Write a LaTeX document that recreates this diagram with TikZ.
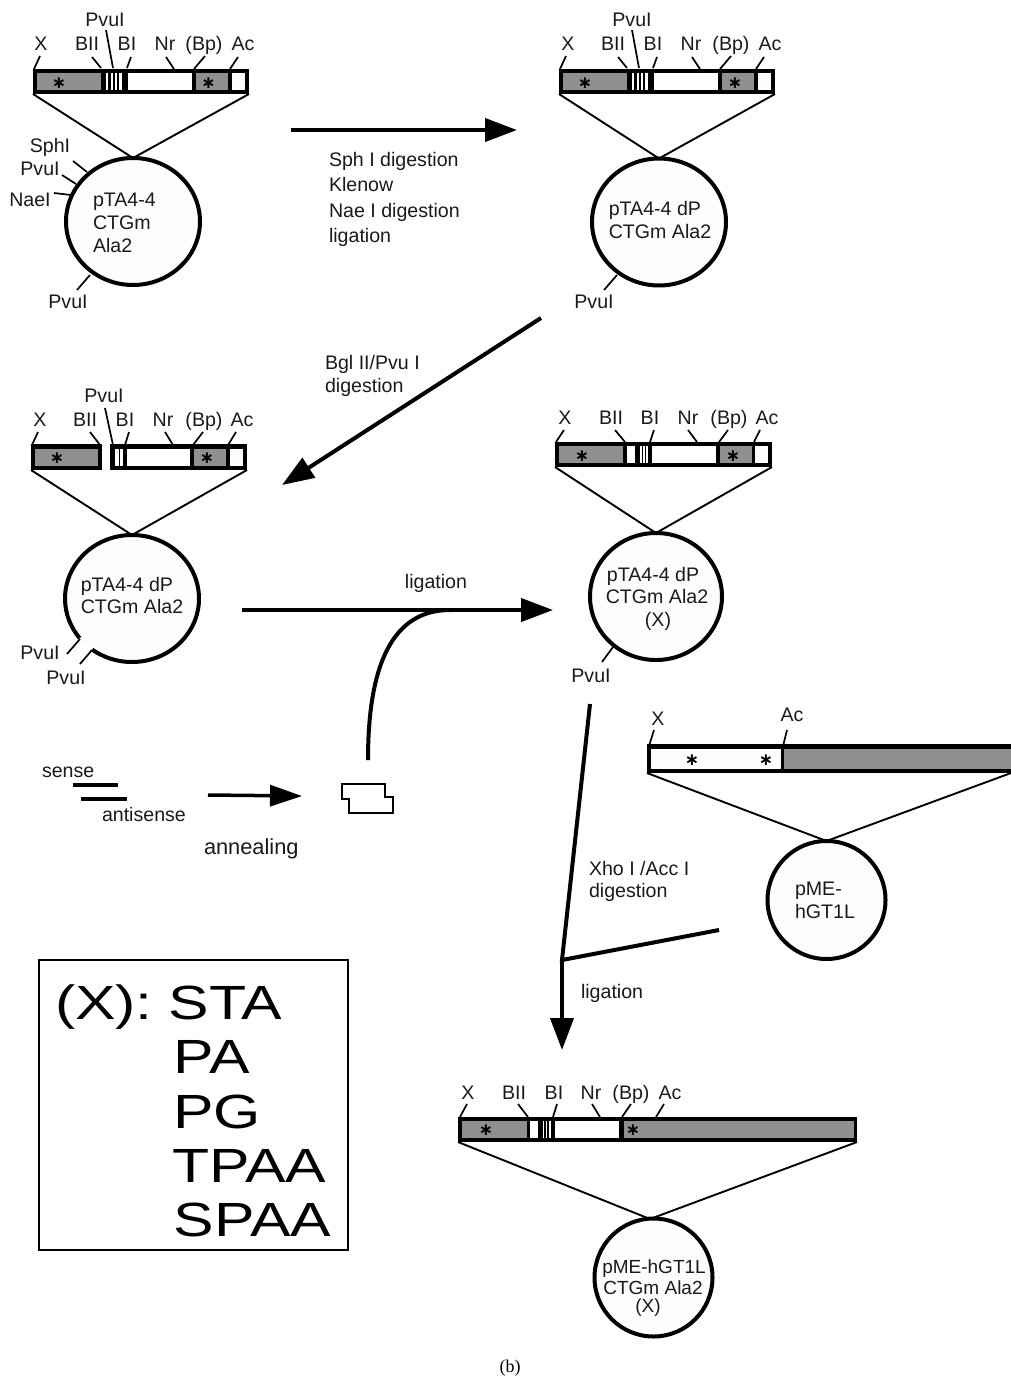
\documentclass[tikz,border=0pt]{standalone}
\usepackage{fontspec}
\setmainfont{Liberation Sans}
\newfontfamily\serifcap{Liberation Serif}
\newfontfamily\astfont{DejaVu Sans}
\usetikzlibrary{arrows.meta,shapes.geometric}
\definecolor{txt}{HTML}{1A1A1A}
\definecolor{seggrey}{HTML}{8F8F8F}
\definecolor{paper}{HTML}{FDFDFD}
\tikzset{
 x=1pt,y=-1pt,
 lab/.style={inner sep=0pt,outer sep=0pt,anchor=base,text=txt,font=\fontsize{19.6}{19.6}\selectfont,align=center},
 labl/.style={lab,anchor=base west},
 plasmid/.style={ellipse,draw=black,line width=4pt,fill=paper,inner sep=0pt,outer sep=0pt},
 ptext/.style={inner sep=0pt,outer sep=0pt,text=txt,font=\fontsize{19.6}{22.8}\selectfont},
 barbox/.style={rectangle,fill=black,inner sep=0pt,outer sep=0pt,minimum height=25pt},
 funnel/.style={draw=black,line width=1.9pt},
 tickline/.style={draw=black,line width=1.7pt},
 mainarrow/.style={draw=black,line width=4pt,-{Triangle[length=32pt,width=23pt]}},
 mainline/.style={draw=black,line width=4pt},
 big/.style={inner sep=0pt,outer sep=0pt,anchor=base west,text=black,font=\fontsize{48}{48}\selectfont,xscale=1.265},
 astmark/.style={inner sep=0pt,text=black,font=\astfont\bfseries\fontsize{17}{17}\selectfont},
}
\newcommand{\dlab}[4]{\node[lab] (#1) at (#2,#3+7) {#4};}
\newcommand{\dlabl}[4]{\node[labl] (#1) at (#2,#3+7) {#4};}
\newcommand{\dseg}[5]{\fill[#5] (#1,#3) rectangle (#2,#4);}
\newcommand{\dtick}[4]{\draw[tickline] (#1,#2) -- (#3,#4);}
\newcommand{\dast}[3]{\node[astmark] (#1) at (#2,#3) {∗};}
\begin{document}
\begin{tikzpicture}
\useasboundingbox (0,0) rectangle (1011,1378);
\fill[white] (0,0) rectangle (1011,1378);

% ---------- A
\node[barbox,minimum width=216pt] (barA) at (141,81.5) {};
\dseg{37}{101}{73}{90}{seggrey}
\dseg{106}{108}{73}{90}{white}\dseg{110.5}{112.5}{73}{90}{white}\dseg{114.5}{116.5}{73}{90}{white}\dseg{118.5}{121.5}{73}{90}{white}
\dseg{128}{192}{73}{90}{white}
\dseg{196}{228}{73}{90}{seggrey}
\dseg{232}{245}{73}{90}{paper}
\dast{aA1}{59}{83}\dast{aA2}{208.5}{83}
\node[plasmid,minimum width=134pt,minimum height=127pt] (cA) at (133,221.5) {};
\node[ptext,align=left,anchor=west] (tA) at (93,223) {pTA4-4\\CTGm\\Ala2};
\draw[funnel] (barA.south west) -- (cA.north) -- (barA.south east);
\dtick{34}{69}{40}{56}\dtick{101}{68}{92}{57}\dtick{113}{68}{106}{30}\dtick{127}{68}{131}{57}\dtick{174}{69}{166}{57}\dtick{194}{69}{205}{56}\dtick{230}{69}{238}{57}
\dlab{A1}{41}{44}{X}\dlab{A2}{87}{44}{BII}\dlab{A3}{105}{20}{PvuI}\dlab{A4}{127}{44}{BI}\dlab{A5}{165}{44}{Nr}\dlab{A6}{204}{44}{(Bp)}\dlab{A7}{243}{44}{Ac}
\dtick{87}{172}{73}{161}\dtick{76}{184}{62}{175}\dtick{71}{195}{54}{193}\dtick{90}{275}{77}{290}
\dlab{A8}{50}{146}{SphI}\dlab{A9}{40}{168}{PvuI}\dlab{A10}{30}{199}{NaeI}\dlab{A11}{68}{301}{PvuI}

% ---------- B
\node[barbox,minimum width=216pt] (barB) at (667,81.5) {};
\dseg{563}{627}{73}{90}{seggrey}
\dseg{632}{634}{73}{90}{white}\dseg{636.5}{638.5}{73}{90}{white}\dseg{640.5}{642.5}{73}{90}{white}\dseg{644.5}{647.5}{73}{90}{white}
\dseg{654}{718}{73}{90}{white}
\dseg{722}{754}{73}{90}{seggrey}
\dseg{758}{771}{73}{90}{paper}
\dast{aB1}{585}{83}\dast{aB2}{735}{83}
\node[plasmid,minimum width=134pt,minimum height=127pt] (cB) at (659,222) {};
\node[ptext,align=left] (tB) at (660,220) {pTA4-4 dP\\CTGm Ala2};
\draw[funnel] (barB.south west) -- (cB.north) -- (barB.south east);
\dtick{560}{69}{566}{56}\dtick{627}{68}{618}{57}\dtick{639}{68}{632}{30}\dtick{653}{68}{657}{57}\dtick{700}{69}{692}{57}\dtick{720}{69}{731}{56}\dtick{756}{69}{764}{57}
\dlab{B1}{568}{44}{X}\dlab{B2}{613}{44}{BII}\dlab{B3}{632}{20}{PvuI}\dlab{B4}{653}{44}{BI}\dlab{B5}{691}{44}{Nr}\dlab{B6}{731}{44}{(Bp)}\dlab{B7}{770}{44}{Ac}
\dtick{617}{275}{604}{290}
\dlab{B8}{594}{301}{PvuI}

% ---------- C
\node[barbox,minimum width=71pt,minimum height=26pt] (barC1) at (66.5,457) {};
\node[barbox,minimum width=137pt,minimum height=26pt] (barC2) at (178.5,457) {};
\dseg{35}{98}{449}{466}{seggrey}
\dseg{115}{118.5}{449}{466}{white}\dseg{120}{122.5}{449}{466}{white}
\dseg{127}{190}{449}{466}{white}
\dseg{194}{226}{449}{466}{seggrey}
\dseg{230}{243}{449}{466}{paper}
\dast{aC1}{57}{458}\dast{aC2}{207}{458}
\node[ellipse,fill=paper,inner sep=0pt,outer sep=0pt,minimum width=134pt,minimum height=127pt] (cC) at (132,598.5) {};
\draw[line width=4pt] ([shift={(233.6:67pt and 63.5pt)}]cC.center) arc[start angle=233.6,end angle=578.7,x radius=67pt,y radius=63.5pt];
\node[ptext,align=left] (tC) at (132,595.5) {pTA4-4 dP\\CTGm Ala2};
\draw[funnel] (barC1.south west) -- (cC.north) -- (barC2.south east);
\dtick{32}{445}{38}{432}\dtick{100}{445}{90}{432}\dtick{113}{445}{105}{408}\dtick{125}{445}{129}{432}\dtick{173}{445}{165}{432}\dtick{193}{445}{203}{432}\dtick{228}{445}{236}{432}
\dlab{C1}{40}{419}{X}\dlab{C2}{85}{419}{BII}\dlab{C3}{104}{395}{PvuI}\dlab{C4}{125}{419}{BI}\dlab{C5}{163}{419}{Nr}\dlab{C6}{204}{419}{(Bp)}\dlab{C7}{242}{419}{Ac}
\dtick{80}{639}{67}{654}\dtick{92}{650}{80}{664}
\dlab{C8}{40}{652}{PvuI}\dlab{C9}{66}{677}{PvuI}

% ---------- D
\node[barbox,minimum width=217pt] (barD) at (663.5,454.5) {};
\dseg{559}{623}{446}{463}{seggrey}
\dseg{627}{635}{446}{463}{white}
\dseg{640}{641.7}{446}{463}{white}\dseg{643.2}{644.8}{446}{463}{white}\dseg{646.3}{648}{446}{463}{white}
\dseg{652}{716}{446}{463}{white}
\dseg{720}{752}{446}{463}{seggrey}
\dseg{755}{768}{446}{463}{paper}
\dast{aD1}{582}{456}\dast{aD2}{733}{456}
\node[plasmid,minimum width=132pt,minimum height=127pt] (cD) at (656,596.5) {};
\dlab{tD1}{653}{574}{pTA4-4 dP}\dlab{tD2}{657}{596}{CTGm Ala2}\dlab{tD3}{658}{619}{(X)}
\draw[funnel] (barD.south west) -- (cD.north) -- (barD.south east);
\dtick{556}{442}{564}{430}\dtick{625}{442}{615}{430}\dtick{650}{442}{654}{430}\dtick{697}{442}{688}{430}\dtick{719}{442}{728}{430}\dtick{754}{442}{760}{430}
\dlab{D1}{565}{417}{X}\dlab{D2}{611}{417}{BII}\dlab{D3}{650}{417}{BI}\dlab{D4}{688}{417}{Nr}\dlab{D5}{729}{417}{(Bp)}\dlab{D6}{767}{417}{Ac}
\dtick{613}{647}{602}{662}
\dlab{D7}{591}{675}{PvuI}

% ---------- pME
\node[barbox,minimum width=364pt,minimum height=29pt] (barP) at (829,758.5) {};
\dseg{651}{781}{749}{769}{paper}
\dseg{784}{1011}{749}{769}{seggrey}
\dast{aP1}{692}{760}\dast{aP2}{766}{760}
\node[plasmid,minimum width=118pt,minimum height=118pt] (cP) at (826.5,900) {};
\node[ptext,align=left,anchor=west] (tP) at (795,900) {pME-\\hGT1L};
\draw[funnel] (barP.south west) -- (cP.north) -- (barP.south east);
\dtick{649}{746}{654}{730}\dtick{783}{746}{787}{730}
\dlab{P1}{658}{718}{X}\dlab{P2}{792}{714}{Ac}

% ---------- E
\node[barbox,minimum width=399pt] (barE) at (657.5,1129.5) {};
\dseg{462}{527}{1121}{1138}{seggrey}
\dseg{530}{538}{1121}{1138}{white}
\dseg{542.5}{544.3}{1121}{1138}{white}\dseg{546}{547.4}{1121}{1138}{white}\dseg{549}{550.5}{1121}{1138}{white}
\dseg{555}{619}{1121}{1138}{white}
\dseg{624}{854}{1121}{1138}{seggrey}
\dast{aE1}{486}{1130}\dast{aE2}{633}{1130}
\node[plasmid,minimum width=118pt,minimum height=118pt] (cE) at (653.5,1277.5) {};
\coordinate (apE) at (650,1219);
\node[inner sep=0pt,text=txt,font=\fontsize{19}{19}\selectfont,anchor=base] (tE1) at (654,1273) {pME-hGT1L};
\node[inner sep=0pt,text=txt,font=\fontsize{19}{19}\selectfont,anchor=base] (tE2) at (653,1294) {CTGm Ala2};
\node[inner sep=0pt,text=txt,font=\fontsize{19}{19}\selectfont,anchor=base] (tE3) at (648,1312) {(X)};
\draw[funnel] (barE.south west) -- (apE) -- (barE.south east);
\dtick{460}{1117}{467}{1104}\dtick{528}{1117}{518}{1104}\dtick{553}{1117}{557}{1104}\dtick{600}{1117}{592}{1104}\dtick{622}{1117}{631}{1104}\dtick{656}{1117}{664}{1104}
\dlab{E1}{468}{1092}{X}\dlab{E2}{514}{1092}{BII}\dlab{E3}{554}{1092}{BI}\dlab{E4}{591}{1092}{Nr}\dlab{E5}{631}{1092}{(Bp)}\dlab{E6}{670}{1092}{Ac}

% ---------- arrows
\coordinate (a1s) at (291,130);\coordinate (a1e) at (517,130);
\coordinate (a2s) at (541,318);\coordinate (a2e) at (282,485);
\coordinate (a3s) at (242,610);\coordinate (a3e) at (553,610);
\coordinate (cvs) at (368,760);\coordinate (cve) at (450,610);
\coordinate (a4s) at (208,795);\coordinate (a4e) at (302,796);
\coordinate (a5s) at (590,704);\coordinate (jn) at (562,960);
\coordinate (a5e) at (562,1050);\coordinate (a6s) at (719,930);
\draw[mainarrow] (a1s) -- (a1e);
\draw[mainarrow] (a2s) -- (a2e);
\draw[mainarrow] (a3s) -- (a3e);
\draw[mainline] (cvs) .. controls (368,680) and (385,610) .. (cve);
\draw[draw=black,line width=3.5pt,-{Triangle[length=32pt,width=21pt]}] (a4s) -- (a4e);
\draw[mainline] (a5s) -- (jn) -- (a6s);
\draw[mainarrow] (jn) -- (a5e);

% ---------- oligos
\coordinate (s1) at (73,785);\coordinate (s2) at (118,785);
\coordinate (s3) at (81,799);\coordinate (s4) at (127,799);
\draw[mainline,line width=3.7pt] (s1) -- (s2);
\draw[mainline,line width=3.7pt] (s3) -- (s4);
\draw[draw=black,line width=2pt] (342,784) -- (385,784) -- (385,797) -- (393,797) -- (393,813) -- (349,813) -- (349,799) -- (342,799) -- cycle;
\dlabl{T1}{42}{770}{sense}
\dlabl{T2}{102}{814}{antisense}
\node[labl,font=\fontsize{21.8}{21.8}\selectfont] (T3) at (204,854) {annealing};

% ---------- step labels
\dlabl{S1}{329}{159}{Sph I digestion}
\dlabl{S2}{329}{184}{Klenow}
\dlabl{S3}{329}{210}{Nae I digestion}
\dlabl{S4}{329}{235}{ligation}
\dlabl{S5}{325}{362}{Bgl II/Pvu I}
\dlabl{S6}{325}{385}{digestion}
\dlab{S7}{436}{581}{ligation}
\dlabl{S8}{589}{868}{Xho I /Acc I}
\dlabl{S9}{589}{890}{digestion}
\dlabl{S10}{581}{991}{ligation}

% ---------- legend box
\node[draw=black,line width=2pt,inner sep=0pt,outer sep=0pt,minimum width=309pt,minimum height=290pt] (box) at (193.5,1105) {};
\node[big] (L0) at (55,1019) {(X):};
\node[big] (L1) at (168.5,1019) {STA};
\node[big] (L2) at (173,1073) {PA};
\node[big] (L3) at (173,1128) {PG};
\node[big] (L4) at (172,1182) {TPAA};
\node[big] (L5) at (173.5,1236) {SPAA};

\node[inner sep=0pt,anchor=base,font=\serifcap\fontsize{18}{18}\selectfont] (cap) at (510,1372) {(b)};
\end{tikzpicture}
\end{document}
